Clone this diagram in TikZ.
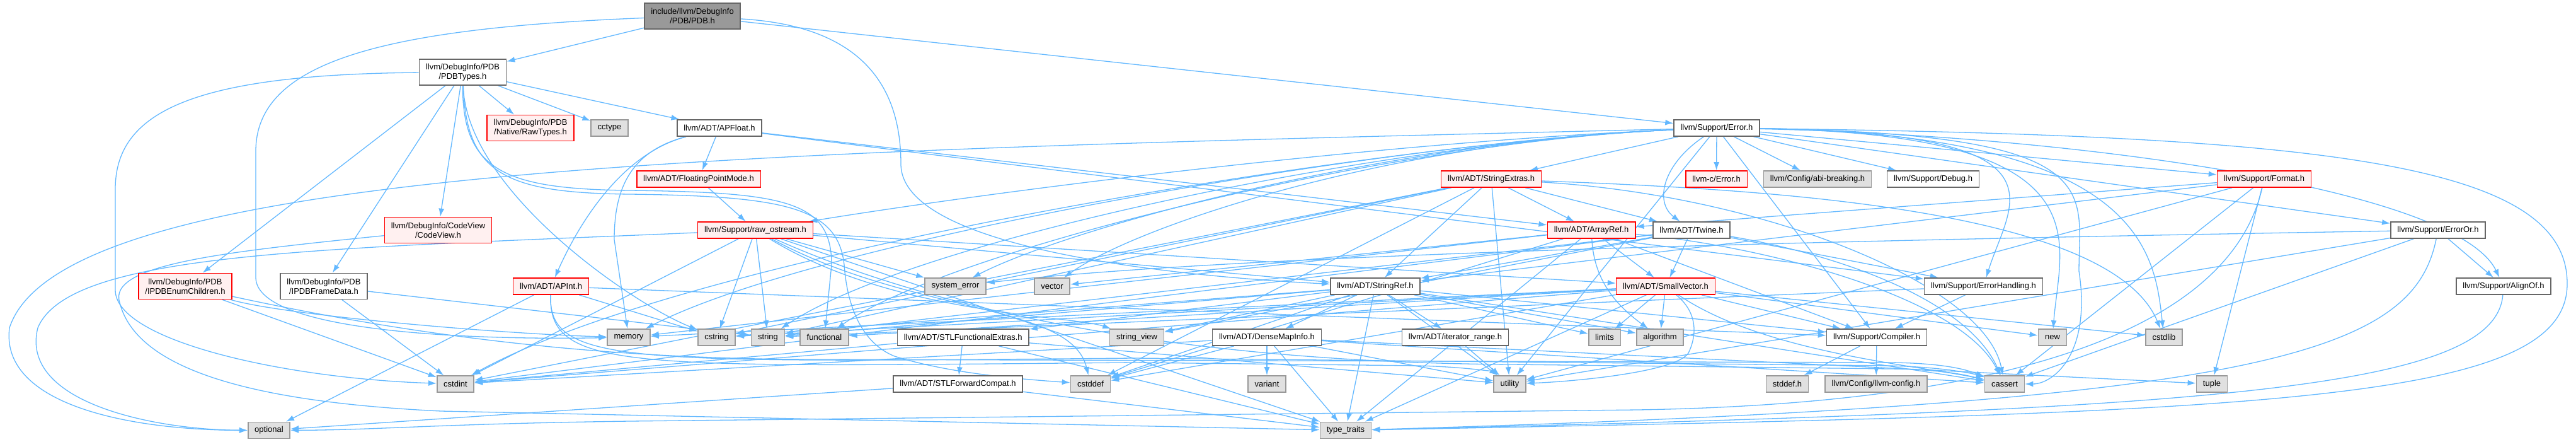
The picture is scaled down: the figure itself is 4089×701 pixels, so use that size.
\documentclass[tikz,border=0pt]{standalone}
\usepackage{fontspec}
\setmainfont{Liberation Sans}
\usetikzlibrary{arrows.meta}
\definecolor{depblue}{HTML}{63B8FF}
\definecolor{truncfill}{HTML}{FFF0F0}
\definecolor{sysfill}{HTML}{E0E0E0}
\definecolor{sysline}{HTML}{999999}
\definecolor{hdrline}{HTML}{666666}
\pgfdeclarelayer{bg}
\pgfsetlayers{bg,main}
\begin{document}
\begin{tikzpicture}[x=1pt,y=-1pt,hdr/.style={draw=hdrline,fill=white,line width=1.6pt,inner xsep=10.5pt,inner ysep=0pt,minimum height=26pt,align=center,font=\fontsize{13}{15}\selectfont},two/.style={minimum height=41pt},trunc/.style={hdr,draw=red,fill=truncfill},sys/.style={hdr,draw=sysline,fill=sysfill},rootfile/.style={hdr,fill=sysline},arr/.style={-{Latex[length=13pt,width=9pt]},draw=depblue,line width=1.3pt}]
\useasboundingbox (0,0) rectangle (4089,701);
\node[rootfile,two] (pdb) at (1099,25.5) {include/llvm/DebugInfo\\/PDB/PDB.h};
\node[hdr,two] (types) at (734.5,114.5) {llvm/DebugInfo/PDB\\/PDBTypes.h};
\node[trunc,two] (raw) at (842,203) {llvm/DebugInfo/PDB\\/Native/RawTypes.h};
\node[sys] (cctype) at (967.5,203) {cctype};
\node[hdr] (apf) at (1142,203) {llvm/ADT/APFloat.h};
\node[hdr] (err) at (2725,203) {llvm/Support/Error.h};
\node[trunc] (fpm) at (1109,284) {llvm/ADT/FloatingPointMode.h};
\node[trunc] (sext) at (2367,284) {llvm/ADT/StringExtras.h};
\node[trunc] (cerr) at (2724.5,284) {llvm-c/Error.h};
\node[sys] (abi) at (2885,284) {llvm/Config/abi-breaking.h};
\node[hdr] (dbg) at (3068.5,284) {llvm/Support/Debug.h};
\node[trunc] (fmt) at (3594,284) {llvm/Support/Format.h};
\node[trunc,two] (cv) at (695.5,365) {llvm/DebugInfo/CodeView\\/CodeView.h};
\node[trunc] (ros) at (1199,365) {llvm/Support/raw\_ostream.h};
\node[trunc] (aref) at (2526,365) {llvm/ADT/ArrayRef.h};
\node[hdr] (twine) at (2685,365) {llvm/ADT/Twine.h};
\node[hdr] (eor) at (3870,365) {llvm/Support/ErrorOr.h};
\node[trunc,two] (enumc) at (294,454) {llvm/DebugInfo/PDB\\/IPDBEnumChildren.h};
\node[hdr,two] (frame) at (514,454) {llvm/DebugInfo/PDB\\/IPDBFrameData.h};
\node[trunc] (apint) at (874.5,454) {llvm/ADT/APInt.h};
\node[sys] (syserr) at (1516.5,454) {system\_error};
\node[sys] (vec) at (1670,454) {vector};
\node[hdr] (sref) at (2183,454) {llvm/ADT/StringRef.h};
\node[trunc] (svec) at (2644,454) {llvm/ADT/SmallVector.h};
\node[hdr] (ehand) at (3148.5,454) {llvm/Support/ErrorHandling.h};
\node[hdr] (align) at (3974,454) {llvm/Support/AlignOf.h};
\node[sys] (mem) at (998,535) {memory};
\node[sys] (cstr) at (1137.5,535) {cstring};
\node[sys] (str) at (1219,535) {string};
\node[sys] (func) at (1308.5,535) {functional};
\node[hdr] (stlfe) at (1528.7,535) {llvm/ADT/STLFunctionalExtras.h};
\node[sys] (sview) at (1804.5,535) {string\_view};
\node[hdr] (dmi) at (2011,535) {llvm/ADT/DenseMapInfo.h};
\node[hdr] (irange) at (2310,535) {llvm/ADT/iterator\_range.h};
\node[sys] (lim) at (2547,535) {limits};
\node[sys] (algo) at (2635,535) {algorithm};
\node[hdr] (comp) at (2979,535) {llvm/Support/Compiler.h};
\node[sys] (newh) at (3258,535) {new};
\node[sys] (cstdlib) at (3435,535) {cstdlib};
\node[sys] (cstdint) at (723,609) {cstdint};
\node[hdr] (stlfc) at (1520.5,609) {llvm/ADT/STLForwardCompat.h};
\node[sys] (cstddef) at (1731,609) {cstddef};
\node[sys] (variant) at (2011,609) {variant};
\node[sys] (util) at (2396.5,609) {utility};
\node[sys] (stddef) at (2837,609) {stddef.h};
\node[sys] (lcfg) at (2978,609) {llvm/Config/llvm-config.h};
\node[sys] (cassert) at (3182,609) {cassert};
\node[sys] (tuple) at (3511,609) {tuple};
\node[sys] (opt) at (427,682.5) {optional};
\node[sys] (ttraits) at (2136,682.5) {type\_traits};
\begin{pgfonlayer}{bg}
\draw[arr] (pdb)--(types); \draw[arr] (pdb)--(err);
\draw[arr] (pdb) .. controls (600,45) and (406,100) .. (406,240) -- (406,440) .. controls (406,520) and (700,540) .. (mem);
\draw[arr] (pdb) .. controls (1350,40) and (1430,120) .. (1430,260) .. controls (1430,400) and (1900,440) .. (sref);
\draw[arr] (types)--(raw); \draw[arr] (types)--(cctype); \draw[arr] (types)--(apf); \draw[arr] (types)--(cv); \draw[arr] (types)--(enumc); \draw[arr] (types)--(frame);
\draw[arr] (types) .. controls (740,300) and (1000,480) .. (cstr);
\draw[arr] (types) .. controls (734,270) and (800,300) .. (1000,302) .. controls (1250,305) and (1320,320) .. (1320,420) -- (func);
\draw[arr] (types) .. controls (740,275) and (800,306) .. (1000,308) .. controls (1250,311) and (1330,330) .. (1340,420) .. controls (1345,490) and (1370,545) .. (1420,565) .. controls (1500,590) and (1600,600) .. (cstddef);
\draw[arr] (types) .. controls (300,118) and (183,180) .. (183,300) -- (183,460) .. controls (183,540) and (450,600) .. (cstdint);
\draw[arr] (enumc)--(cstdint); \draw[arr] (enumc) .. controls (450,500) and (800,530) .. (mem);
\draw[arr] (enumc) .. controls (600,520) and (900,570) .. (1300,570) -- (3000,575) .. controls (3100,576) and (3130,590) .. (cassert);
\draw[arr] (frame)--(cstdint); \draw[arr] (frame)--(str);
\draw[arr] (cv) .. controls (350,400) and (170,420) .. (190,480) .. controls (220,600) and (450,640) .. (700,652) -- (ttraits);
\draw[arr] (apf)--(aref); \draw[arr] (apf)--(fpm); \draw[arr] (apf)--(ehand);
\draw[arr] (apf) .. controls (1000,240) and (930,330) .. (apint); \draw[arr] (apf) .. controls (1000,240) and (975,300) .. (975,380) -- (mem);
\draw[arr] (apint)--(comp); \draw[arr] (apint)--(cstr); \draw[arr] (apint)--(opt);
\draw[arr] (apint) .. controls (870,580) and (1000,575) .. (1800,568) -- (3000,580) .. controls (3100,583) and (3140,595) .. (cassert);
\draw[arr] (apint) .. controls (870,590) and (1000,582) .. (1800,575) -- (2250,580) .. controls (2330,582) and (2370,590) .. (util);
\draw[arr] (fpm)--(ros);
\draw[arr] (ros)--(svec); \draw[arr] (ros)--(sref); \draw[arr] (ros)--(cstdint); \draw[arr] (ros)--(cstr); \draw[arr] (ros)--(str); \draw[arr] (ros)--(syserr); \draw[arr] (ros)--(ttraits);
\draw[arr] (ros) .. controls (1450,500) and (1700,480) .. (cstddef); \draw[arr] (ros) .. controls (1420,500) and (1700,500) .. (sview);
\draw[arr] (ros) .. controls (1500,500) and (1900,575) .. (2400,578) -- (3000,585) .. controls (3100,586) and (3140,600) .. (cassert);
\draw[arr] (ros) .. controls (500,395) and (110,400) .. (60,520) .. controls (30,640) and (250,682) .. (opt);
\draw[arr] (err)--(cerr); \draw[arr] (err)--(sext); \draw[arr] (err)--(abi); \draw[arr] (err)--(dbg); \draw[arr] (err)--(fmt); \draw[arr] (err)--(eor);
\draw[arr] (err)--(comp); \draw[arr] (err)--(util); \draw[arr] (err) .. controls (2640,260) and (2625,320) .. (twine);
\draw[arr] (err) .. controls (3300,215) and (3900,300) .. (align); \draw[arr] (err) .. controls (3300,210) and (3190,320) .. (ehand);
\draw[arr] (err) .. controls (3350,212) and (3300,300) .. (3300,430) .. controls (3320,560) and (3260,609) .. (cassert);
\draw[arr] (err) .. controls (3350,212) and (3270,380) .. (newh); \draw[arr] (err) .. controls (3400,212) and (3420,400) .. (cstdlib);
\draw[arr] (err) .. controls (2200,225) and (1600,300) .. (ros); \draw[arr] (err) .. controls (2200,225) and (1100,400) .. (cstdint);
\draw[arr] (err) .. controls (2200,225) and (1500,400) .. (func); \draw[arr] (err) .. controls (2200,225) and (1300,380) .. (mem);
\draw[arr] (err) .. controls (2200,225) and (1450,380) .. (str); \draw[arr] (err) .. controls (2200,225) and (1700,360) .. (syserr);
\draw[arr] (err) .. controls (2200,225) and (1800,360) .. (vec);
\draw[arr] (err) .. controls (1200,240) and (100,260) .. (15,520) .. controls (0,640) and (200,682) .. (opt);
\draw[arr] (err) .. controls (3700,215) and (4075,260) .. (4075,450) .. controls (4075,640) and (3600,655) .. (ttraits);
\draw[arr] (sext)--(aref); \draw[arr] (sext)--(sref); \draw[arr] (sext)--(twine); \draw[arr] (sext)--(cstddef); \draw[arr] (sext)--(cstdint);
\draw[arr] (sext)--(cstr); \draw[arr] (sext)--(str); \draw[arr] (sext)--(util);
\draw[arr] (sext) .. controls (2800,300) and (3350,330) .. (cstdlib); \draw[arr] (sext) .. controls (2800,310) and (3150,450) .. (cassert);
\draw[arr] (fmt)--(aref); \draw[arr] (fmt)--(sref); \draw[arr] (fmt)--(cassert); \draw[arr] (fmt)--(tuple); \draw[arr] (fmt)--(util);
\draw[arr] (fmt) .. controls (3540,520) and (3200,640) .. (2600,650) -- (1000,668) .. controls (700,672) and (600,682) .. (opt);
\draw[arr] (eor)--(align); \draw[arr] (eor)--(cassert); \draw[arr] (eor)--(util); \draw[arr] (eor) .. controls (3000,380) and (2000,400) .. (syserr);
\draw[arr] (eor) .. controls (3830,560) and (3600,640) .. (ttraits);
\draw[arr] (align) .. controls (3960,620) and (3500,650) .. (ttraits);
\draw[arr] (twine)--(svec); \draw[arr] (twine)--(sref); \draw[arr] (twine)--(ehand); \draw[arr] (twine)--(cstdint); \draw[arr] (twine)--(str); \draw[arr] (twine)--(sview);
\draw[arr] (twine) .. controls (2900,400) and (3120,470) .. (cassert);
\draw[arr] (aref)--(svec); \draw[arr] (aref)--(comp); \draw[arr] (aref)--(cstddef); \draw[arr] (aref)--(mem); \draw[arr] (aref)--(ttraits); \draw[arr] (aref)--(vec);
\draw[arr] (aref) .. controls (2530,440) and (2560,480) .. (algo); \draw[arr] (aref) .. controls (2800,390) and (3110,470) .. (cassert);
\draw[arr] (svec)--(comp); \draw[arr] (svec)--(algo); \draw[arr] (svec)--(cstddef); \draw[arr] (svec)--(cstdint); \draw[arr] (svec)--(cstdlib);
\draw[arr] (svec)--(cstr); \draw[arr] (svec)--(func); \draw[arr] (svec)--(lim); \draw[arr] (svec)--(mem); \draw[arr] (svec)--(newh); \draw[arr] (svec)--(ttraits);
\draw[arr] (svec) .. controls (2800,560) and (3050,580) .. (cassert);
\draw[arr] (svec) .. controls (2700,500) and (2690,540) .. (2680,560) .. controls (2660,590) and (2500,605) .. (util);
\draw[arr] (sref)--(dmi); \draw[arr] (sref)--(stlfe); \draw[arr] (sref)--(irange); \draw[arr] (sref)--(comp); \draw[arr] (sref)--(algo); \draw[arr] (sref)--(cassert);
\draw[arr] (sref)--(cstddef); \draw[arr] (sref)--(cstr); \draw[arr] (sref)--(lim); \draw[arr] (sref)--(str); \draw[arr] (sref)--(sview); \draw[arr] (sref)--(ttraits); \draw[arr] (sref)--(util);
\draw[arr] (stlfe)--(stlfc); \draw[arr] (stlfe)--(cstdint); \draw[arr] (stlfe)--(ttraits); \draw[arr] (stlfe)--(util);
\draw[arr] (stlfc)--(opt); \draw[arr] (stlfc)--(ttraits);
\draw[arr] (dmi)--(cassert); \draw[arr] (dmi)--(cstddef); \draw[arr] (dmi)--(cstdint); \draw[arr] (dmi)--(tuple); \draw[arr] (dmi)--(ttraits); \draw[arr] (dmi)--(util); \draw[arr] (dmi)--(variant);
\draw[arr] (irange)--(util);
\draw[arr] (ehand)--(comp); \draw[arr] (ehand)--(str);
\draw[arr] (comp)--(lcfg); \draw[arr] (comp)--(stddef);
\end{pgfonlayer}
\end{tikzpicture}
\end{document}
